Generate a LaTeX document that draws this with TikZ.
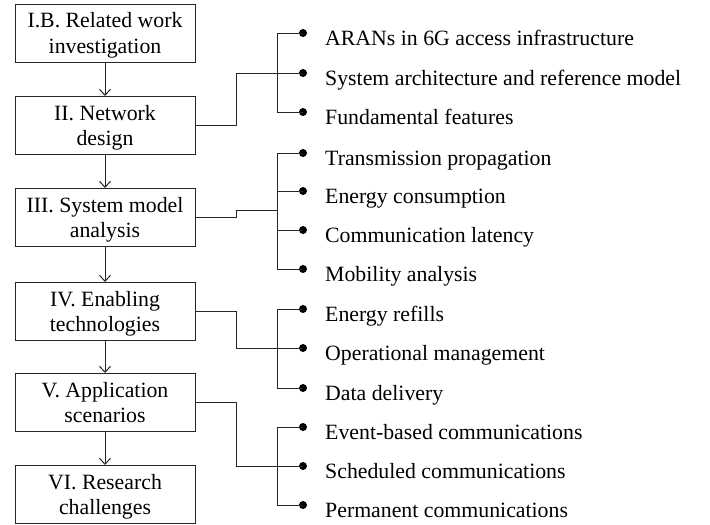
\documentclass[tikz,border=0pt]{standalone}
\usepackage{fontspec}
\setmainfont{Liberation Serif}
\usetikzlibrary{arrows.meta,calc}
\begin{document}
\begin{tikzpicture}[x=1pt,y=-1pt,
  every node/.style={font=\fontsize{21.8}{25.5}\selectfont},
  line/.style={draw=black!85, line width=1pt},
  box/.style={line, minimum width=180pt, minimum height=58pt, inner sep=0pt, align=center, anchor=center, text depth=0pt},
  flow/.style={line, -{Straight Barb[length=6pt,width=11pt,line width=1pt]}},
  dot/.style={circle, fill=black, inner sep=0pt, minimum size=8pt},
  item/.style={anchor=base west, inner sep=0pt}]
\useasboundingbox (0,0) rectangle (710,525);
% boxes
\node[box] (b1) at (105,33) {I.B. Related work\\investigation};
\node[box] (b2) at (105,125.5) {II. Network\\design};
\node[box] (b3) at (105,217.5) {III. System model\\analysis};
\node[box] (b4) at (105,311.5) {IV. Enabling\\technologies};
\node[box] (b5) at (105,402.5) {V. Application\\scenarios};
\node[box] (b6) at (105,494.5) {VI. Research\\challenges};
\draw[flow] (b1) -- (b2);
\draw[flow] (b2) -- (b3);
\draw[flow] (b3) -- (b4);
\draw[flow] (b4) -- (b5);
\draw[flow] (b5) -- (b6);
% junction x and bracket x
\coordinate (jx) at (236,0);
\coordinate (kx) at (277,0);
% group 1
\node[dot] (d11) at (303,33) {};
\node[dot] (d12) at (303,73) {};
\node[dot] (d13) at (303,112) {};
% group 2
\node[dot] (d21) at (303,153) {};
\node[dot] (d22) at (303,191) {};
\node[dot] (d23) at (303,230) {};
\node[dot] (d24) at (303,269) {};
% group 3
\node[dot] (d31) at (303,309) {};
\node[dot] (d32) at (303,348) {};
\node[dot] (d33) at (303,388) {};
% group 4
\node[dot] (d41) at (303,427) {};
\node[dot] (d42) at (303,466) {};
\node[dot] (d43) at (303,505) {};
% texts
\foreach \d/\t in {d11/ARANs in 6G access infrastructure,
  d12/System architecture and reference model,
  d13/Fundamental features,
  d21/Transmission propagation,
  d22/Energy consumption,
  d23/Communication latency,
  d24/Mobility analysis,
  d31/Energy refills,
  d32/Operational management,
  d33/Data delivery,
  d41/Event-based communications,
  d42/Scheduled communications,
  d43/Permanent communications}
  \node[item] (t\d) at ([xshift=22pt,yshift=-12pt]\d.center) {\t};
% brackets
\draw[line] (d11.center) -- (d11.center -| kx) -- (d13.center -| kx) -- (d13.center);
\draw[line] (d12.center) -- (d12.center -| kx);
\draw[line] (d21.center) -- (d21.center -| kx) -- (d24.center -| kx) -- (d24.center);
\draw[line] (d22.center) -- (d22.center -| kx);
\draw[line] (d23.center) -- (d23.center -| kx);
\draw[line] (d31.center) -- (d31.center -| kx) -- (d33.center -| kx) -- (d33.center);
\draw[line] (d32.center) -- (d32.center -| kx);
\draw[line] (d41.center) -- (d41.center -| kx) -- (d43.center -| kx) -- (d43.center);
\draw[line] (d42.center) -- (d42.center -| kx);
% connectors from boxes
\coordinate (m2) at ($(d22.center -| kx)!0.5!(d23.center -| kx)$);
\draw[line] (b2.east) -- (b2.east -| jx) |- (d12.center);
\draw[line] (b3.east) -- (b3.east -| jx) -- (jx |- m2) -- (m2);
\draw[line] (b4.east) -- (b4.east -| jx) |- (d32.center);
\draw[line] (b5.east) -- (b5.east -| jx) |- (d42.center);
\end{tikzpicture}
\end{document}
